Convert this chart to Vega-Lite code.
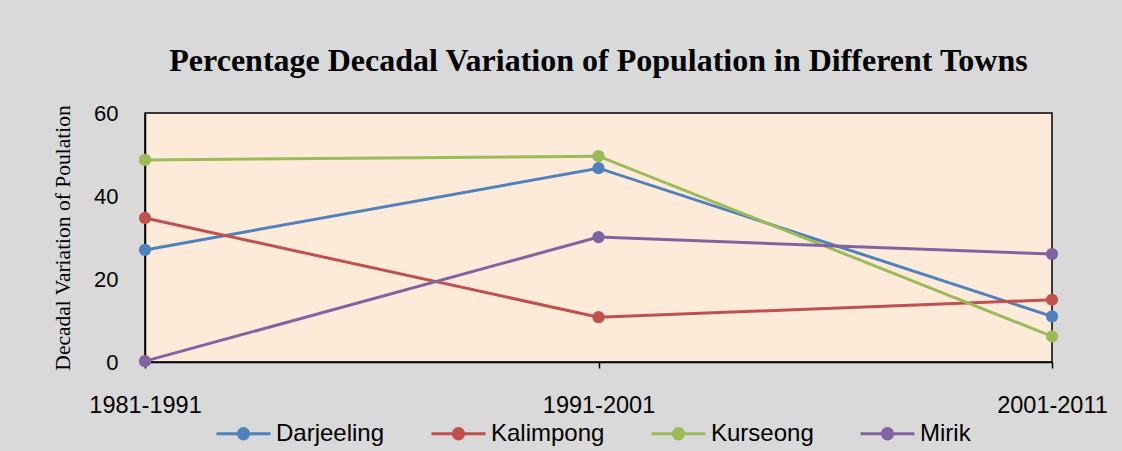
{
  "$schema": "https://vega.github.io/schema/vega-lite/v6.json",
  "width": 907,
  "height": 249,
  "autosize": {"type": "none"},
  "padding": {"left": 145, "top": 113, "right": 70, "bottom": 89},
  "background": "#d9d9d9",
  "title": {
    "text": "Percentage Decadal Variation of Population in Different Towns",
    "font": "Liberation Serif",
    "fontSize": 32,
    "fontWeight": "bold",
    "color": "#000000",
    "anchor": "middle",
    "offset": 24
  },
  "config": {
    "view": {"fill": "#fdead9", "stroke": "#000000", "strokeWidth": 1.5}
  },
  "data": {
    "values": [
      {"period": "1981-1991", "town": "Darjeeling", "value": 27.0},
      {"period": "1991-2001", "town": "Darjeeling", "value": 46.7},
      {"period": "2001-2011", "town": "Darjeeling", "value": 11.0},
      {"period": "1981-1991", "town": "Kalimpong", "value": 34.7},
      {"period": "1991-2001", "town": "Kalimpong", "value": 10.8},
      {"period": "2001-2011", "town": "Kalimpong", "value": 15.0},
      {"period": "1981-1991", "town": "Kurseong", "value": 48.7},
      {"period": "1991-2001", "town": "Kurseong", "value": 49.6},
      {"period": "2001-2011", "town": "Kurseong", "value": 6.2},
      {"period": "1981-1991", "town": "Mirik", "value": 0.2},
      {"period": "1991-2001", "town": "Mirik", "value": 30.1},
      {"period": "2001-2011", "town": "Mirik", "value": 26.0}
    ]
  },
  "mark": {"type": "line", "strokeWidth": 3, "point": {"filled": true, "size": 150, "opacity": 1}},
  "encoding": {
    "x": {
      "field": "period",
      "type": "ordinal",
      "sort": ["1981-1991", "1991-2001", "2001-2011"],
      "scale": {"type": "point", "padding": 0},
      "axis": {
        "title": null,
        "labelAngle": 0,
        "labelFont": "Liberation Sans",
        "labelFontSize": 23.5,
        "labelColor": "#000000",
        "labelPadding": 25,
        "tickSize": 6,
        "tickColor": "#000000",
        "tickWidth": 1.5,
        "domainColor": "#000000",
        "domainWidth": 1.5,
        "grid": false
      }
    },
    "y": {
      "field": "value",
      "type": "quantitative",
      "scale": {"domain": [0, 60], "nice": false},
      "axis": {
        "values": [0, 20, 40, 60],
        "title": "Decadal Variation of Poulation",
        "titleFont": "Liberation Serif",
        "titleFontSize": 21.5,
        "titleFontWeight": "normal",
        "titleColor": "#000000",
        "titlePadding": 19,
        "labelFont": "Liberation Sans",
        "labelFontSize": 22,
        "labelColor": "#000000",
        "labelPadding": 27,
        "ticks": false,
        "domainColor": "#000000",
        "domainWidth": 1.5,
        "grid": false
      }
    },
    "color": {
      "field": "town",
      "type": "nominal",
      "scale": {
        "domain": ["Darjeeling", "Kalimpong", "Kurseong", "Mirik"],
        "range": ["#4f81bd", "#c0504d", "#9bbb59", "#8064a2"]
      },
      "legend": {
        "orient": "none",
        "direction": "horizontal",
        "legendX": 70,
        "legendY": 292,
        "title": null,
        "symbolType": "M-1,0L1,0M-0.19,0A0.19,0.19,0,1,1,0.19,0A0.19,0.19,0,1,1,-0.19,0Z",
        "symbolSize": 2916,
        "symbolStrokeWidth": 3,
        "labelFont": "Liberation Sans",
        "labelFontSize": 24,
        "labelColor": "#000000",
        "labelOffset": 4,
        "columnPadding": 40,
        "encode": {
          "symbols": {
            "update": {
              "fill": {"scale": "color", "field": "value"},
              "stroke": {"scale": "color", "field": "value"},
              "opacity": {"value": 1}
            }
          }
        }
      }
    }
  }
}
